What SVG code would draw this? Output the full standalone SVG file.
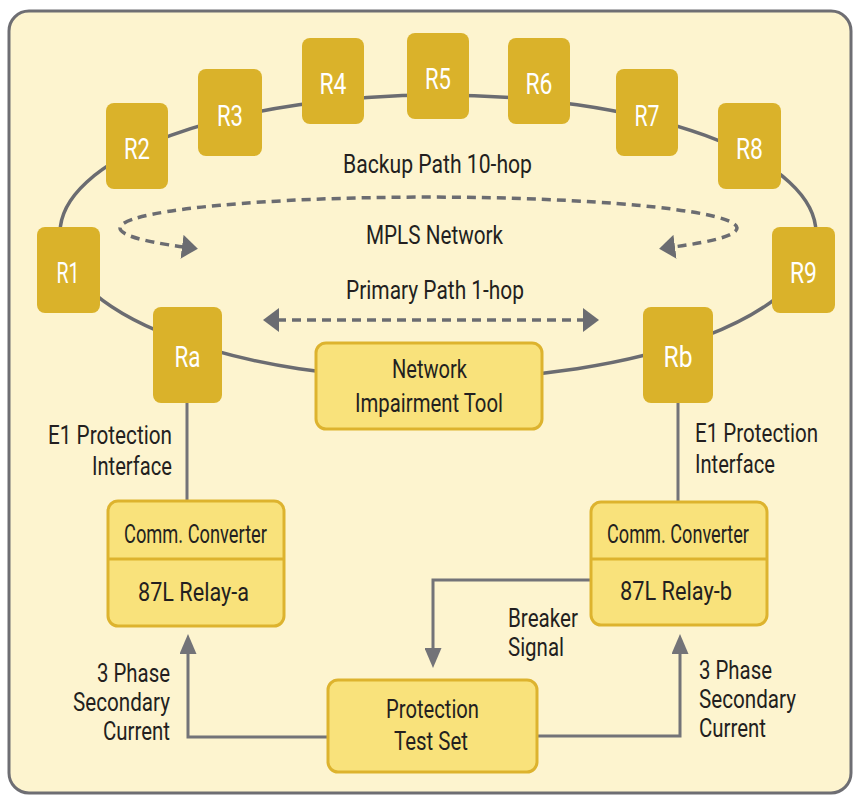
<svg xmlns="http://www.w3.org/2000/svg" width="856" height="796" viewBox="0 0 856 796">
<defs>
<style>
.bg{fill:#FDF4CF;stroke:#6E6E73;stroke-width:3}
.ring{fill:none;stroke:#6B6C71;stroke-width:3.5}
.conn{fill:none;stroke:#737378;stroke-width:3}
.dash{fill:none;stroke:#6B6C71;stroke-width:3.5;stroke-dasharray:9 6}
.router rect{fill:#DAB22A}
.router text{fill:#FFFFFF;font-family:Roboto,'Liberation Sans',sans-serif;font-size:30px;text-anchor:middle}
.box{fill:#F9E27B;stroke:#DDB32E;stroke-width:3}
.div{stroke:#DDB32E;stroke-width:3}
.lbl{fill:#231F20;font-family:Roboto,'Liberation Sans',sans-serif;font-size:26px}
.mid{text-anchor:middle}
.end{text-anchor:end}
</style>
<marker id="dArrow" markerUnits="userSpaceOnUse" viewBox="0 0 16 24" markerWidth="16" markerHeight="24" refX="2" refY="12" orient="auto-start-reverse">
<path d="M0,0 L16,12 L0,24 Z" fill="#6B6C71"/>
</marker>
<marker id="sArrow" markerUnits="userSpaceOnUse" viewBox="0 0 20 17" markerWidth="20" markerHeight="17" refX="1" refY="8.5" orient="auto">
<path d="M0,0 L20,8.5 L0,17 Z" fill="#737378"/>
</marker>
</defs>
<rect class="bg" x="9" y="11" width="842" height="782" rx="20"/>
<g id="connectors">
<path id="ring" class="ring" d="M 60 233 A 378 138 0 0 1 816 233 A 378 146 0 0 1 60 233 Z"/>
<path id="backup-loop" class="dash" d="M 184 247 A 308.5 31 0 1 1 673 247" marker-start="url(#dArrow)" marker-end="url(#dArrow)"/>
<path id="primary" class="dash" d="M 277 320 H 585" marker-start="url(#dArrow)" marker-end="url(#dArrow)"/>
<path class="conn" d="M 187 403 V 501"/>
<path class="conn" d="M 678 403 V 502"/>
<path class="conn" d="M 328 737 H 188 V 653" marker-end="url(#sArrow)"/>
<path class="conn" d="M 537 736 H 680 V 653" marker-end="url(#sArrow)"/>
<path class="conn" d="M 591 580 H 433 V 649" marker-end="url(#sArrow)"/>
</g>
<g id="R1" class="router"><rect x="37" y="227" width="63" height="86" rx="8"/><text x="68" y="283" textLength="23" lengthAdjust="spacingAndGlyphs">R1</text></g>
<g id="R2" class="router"><rect x="106" y="103" width="62" height="86" rx="8"/><text x="137" y="159" textLength="26" lengthAdjust="spacingAndGlyphs">R2</text></g>
<g id="R3" class="router"><rect x="198" y="69" width="64" height="87" rx="8"/><text x="230" y="126" textLength="26" lengthAdjust="spacingAndGlyphs">R3</text></g>
<g id="R4" class="router"><rect x="302" y="38" width="62" height="86" rx="8"/><text x="333" y="94" textLength="27" lengthAdjust="spacingAndGlyphs">R4</text></g>
<g id="R5" class="router"><rect x="407" y="33" width="62" height="86" rx="8"/><text x="438" y="89" textLength="26" lengthAdjust="spacingAndGlyphs">R5</text></g>
<g id="R6" class="router"><rect x="508" y="38" width="62" height="86" rx="8"/><text x="539" y="94" textLength="27" lengthAdjust="spacingAndGlyphs">R6</text></g>
<g id="R7" class="router"><rect x="616" y="69" width="62" height="87" rx="8"/><text x="647" y="126" textLength="25" lengthAdjust="spacingAndGlyphs">R7</text></g>
<g id="R8" class="router"><rect x="718" y="103" width="63" height="86" rx="8"/><text x="749.5" y="159" textLength="27" lengthAdjust="spacingAndGlyphs">R8</text></g>
<g id="R9" class="router"><rect x="772" y="227" width="63" height="86" rx="8"/><text x="803.5" y="283" textLength="27" lengthAdjust="spacingAndGlyphs">R9</text></g>
<g id="Ra" class="router"><rect x="153" y="307" width="69" height="96" rx="8"/><text x="187.5" y="367" textLength="26" lengthAdjust="spacingAndGlyphs">Ra</text></g>
<g id="Rb" class="router"><rect x="643" y="307" width="70" height="96" rx="8"/><text x="678" y="367" textLength="29" lengthAdjust="spacingAndGlyphs">Rb</text></g>
<g id="nit"><rect class="box" x="316" y="343" width="226" height="86" rx="10"/>
<text class="lbl mid" x="429.5" y="378" font-size="27" textLength="75" lengthAdjust="spacingAndGlyphs">Network</text>
<text class="lbl mid" x="429" y="412" font-size="27" textLength="148" lengthAdjust="spacingAndGlyphs">Impairment Tool</text></g>
<g id="relay-a"><rect class="box" x="108" y="501" width="176" height="125" rx="10"/><line class="div" x1="108" y1="559" x2="284" y2="559"/>
<text class="lbl mid" x="195.5" y="543" font-size="25" textLength="143" lengthAdjust="spacingAndGlyphs">Comm. Converter</text>
<text class="lbl mid" x="193.5" y="601" font-size="28" textLength="111" lengthAdjust="spacingAndGlyphs">87L Relay-a</text></g>
<g id="relay-b"><rect class="box" x="591" y="502" width="176" height="123" rx="10"/><line class="div" x1="591" y1="559" x2="767" y2="559"/>
<text class="lbl mid" x="678" y="543" font-size="25" textLength="142" lengthAdjust="spacingAndGlyphs">Comm. Converter</text>
<text class="lbl mid" x="676" y="600" font-size="28" textLength="112" lengthAdjust="spacingAndGlyphs">87L Relay-b</text></g>
<g id="pts"><rect class="box" x="328" y="680" width="209" height="92" rx="10"/>
<text class="lbl mid" x="432.5" y="718" font-size="27" textLength="93" lengthAdjust="spacingAndGlyphs">Protection</text>
<text class="lbl mid" x="431" y="750" font-size="27" textLength="74" lengthAdjust="spacingAndGlyphs">Test Set</text></g>
<g id="labels">
<text class="lbl mid" x="437.5" y="173" textLength="189" lengthAdjust="spacingAndGlyphs">Backup Path 10-hop</text>
<text class="lbl mid" x="434.5" y="244" textLength="137" lengthAdjust="spacingAndGlyphs">MPLS Network</text>
<text class="lbl mid" x="435" y="299" textLength="178" lengthAdjust="spacingAndGlyphs">Primary Path 1-hop</text>
<text class="lbl end" x="172" y="444" textLength="124" lengthAdjust="spacingAndGlyphs">E1 Protection</text>
<text class="lbl end" x="172" y="475" textLength="80" lengthAdjust="spacingAndGlyphs">Interface</text>
<text class="lbl" x="695" y="442" textLength="123" lengthAdjust="spacingAndGlyphs">E1 Protection</text>
<text class="lbl" x="695" y="473" textLength="80" lengthAdjust="spacingAndGlyphs">Interface</text>
<text class="lbl" x="508" y="627" textLength="70" lengthAdjust="spacingAndGlyphs">Breaker</text>
<text class="lbl" x="508" y="656" textLength="56" lengthAdjust="spacingAndGlyphs">Signal</text>
<text class="lbl end" x="170" y="682" textLength="73" lengthAdjust="spacingAndGlyphs">3 Phase</text>
<text class="lbl end" x="170" y="711" textLength="97" lengthAdjust="spacingAndGlyphs">Secondary</text>
<text class="lbl end" x="170" y="740" textLength="67" lengthAdjust="spacingAndGlyphs">Current</text>
<text class="lbl" x="699" y="679" textLength="73" lengthAdjust="spacingAndGlyphs">3 Phase</text>
<text class="lbl" x="699" y="708" textLength="97" lengthAdjust="spacingAndGlyphs">Secondary</text>
<text class="lbl" x="699" y="737" textLength="67" lengthAdjust="spacingAndGlyphs">Current</text>
</g>
</svg>
